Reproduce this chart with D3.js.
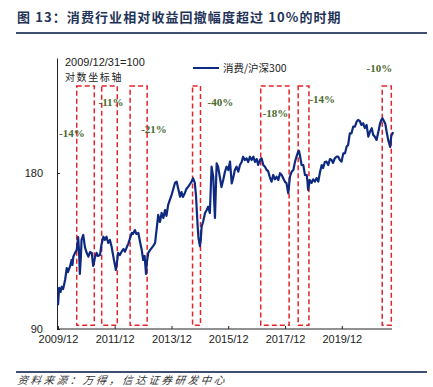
<!DOCTYPE html>
<html>
<head>
<meta charset="utf-8">
<script src="https://cdn.jsdelivr.net/npm/d3@7"></script>
<style>
  html, body { margin: 0; padding: 0; background: #fff; }
  svg { display: block; }
  .tick text { font-family: "Liberation Sans", Arial, sans-serif; font-size: 11px; fill: #222; }
  .axis path, .axis line { stroke: #222; }
</style>
</head>
<body>
<div id="chart"></div>
<script>
// Consumer / CSI300 relative index, 2009/12/31 = 100 (decimal years)
const years = [
  2010.00, 2010.04, 2010.09, 2010.13, 2010.18, 2010.25, 2010.31, 2010.35, 2010.42, 2010.48,
  2010.51, 2010.54, 2010.60, 2010.66, 2010.71, 2010.74, 2010.77, 2010.81, 2010.83, 2010.89,
  2010.95, 2011.00, 2011.07, 2011.13, 2011.19, 2011.24, 2011.30, 2011.36, 2011.41, 2011.48,
  2011.53, 2011.60, 2011.65, 2011.71, 2011.77, 2011.83, 2011.89, 2011.95, 2012.04, 2012.08,
  2012.12, 2012.18, 2012.24, 2012.31, 2012.36, 2012.48, 2012.54, 2012.60, 2012.64, 2012.71,
  2012.76, 2012.83, 2012.89, 2012.95, 2013.00, 2013.05, 2013.10, 2013.13, 2013.18, 2013.24,
  2013.30, 2013.35, 2013.42, 2013.47, 2013.53, 2013.59, 2013.65, 2013.71, 2013.77, 2013.82,
  2013.88, 2013.94, 2014.00, 2014.05, 2014.12, 2014.18, 2014.23, 2014.30, 2014.35, 2014.40,
  2014.47, 2014.52, 2014.59, 2014.65, 2014.70, 2014.76, 2014.82, 2014.86, 2014.92, 2014.95,
  2015.00, 2015.03, 2015.06, 2015.11, 2015.18, 2015.24, 2015.29, 2015.35, 2015.41, 2015.47,
  2015.50, 2015.53, 2015.56, 2015.59, 2015.64, 2015.70, 2015.76, 2015.82, 2015.88, 2015.94,
  2016.00, 2016.06, 2016.12, 2016.17, 2016.23, 2016.29, 2016.35, 2016.41, 2016.47, 2016.52,
  2016.58, 2016.64, 2016.70, 2016.76, 2016.82, 2016.88, 2016.94, 2017.00, 2017.05, 2017.11,
  2017.17, 2017.23, 2017.29, 2017.35, 2017.40, 2017.46, 2017.52, 2017.58, 2017.64, 2017.70,
  2017.76, 2017.82, 2017.88, 2017.93, 2017.99, 2018.05, 2018.11, 2018.17, 2018.23, 2018.29,
  2018.35, 2018.40, 2018.46, 2018.49, 2018.52, 2018.58, 2018.64, 2018.70, 2018.76, 2018.79,
  2018.81, 2018.87, 2018.93, 2018.99, 2019.05, 2019.11, 2019.17, 2019.23, 2019.29, 2019.34,
  2019.40, 2019.46, 2019.52, 2019.58, 2019.64, 2019.69, 2019.75, 2019.81, 2019.87, 2019.93,
  2019.99, 2020.05, 2020.11, 2020.17, 2020.22, 2020.28, 2020.34, 2020.40, 2020.46, 2020.52,
  2020.57, 2020.63, 2020.69, 2020.75, 2020.81, 2020.87, 2020.93, 2020.99, 2021.05, 2021.10,
  2021.16, 2021.22, 2021.28, 2021.34, 2021.39, 2021.43, 2021.48, 2021.53, 2021.58, 2021.63,
  2021.67, 2021.70, 2021.74, 2021.78, 2021.80
];
const values = [
  100.0, 108.0, 106.1, 108.6, 107.5, 111.9, 118.0, 115.9, 118.7, 122.3,
  119.6, 124.1, 126.2, 127.8, 135.4, 127.8, 114.9, 125.0, 133.7, 136.7,
  129.5, 126.7, 124.1, 126.7, 126.2, 119.1, 123.4, 126.2, 124.5, 125.0,
  130.7, 135.6, 133.7, 135.6, 131.9, 133.7, 129.7, 124.1, 117.0, 121.2,
  126.2, 125.0, 126.9, 128.4, 126.9, 131.7, 134.8, 137.9, 137.3, 139.7,
  137.3, 137.9, 132.5, 127.8, 122.3, 124.5, 114.9, 121.2, 126.2, 127.8,
  129.0, 130.1, 131.9, 139.7, 149.4, 144.8, 150.7, 147.4, 152.7, 148.8,
  156.2, 159.7, 163.2, 166.9, 172.2, 173.2, 168.4, 162.0, 165.4, 161.8,
  164.7, 167.6, 169.4, 171.4, 173.0, 175.8, 172.2, 163.2, 141.8, 134.8,
  130.1, 133.7, 141.8, 144.8, 150.7, 152.7, 155.0, 150.7, 185.1, 177.0,
  159.7, 147.4, 166.9, 187.9, 185.1, 177.0, 169.1, 174.5, 180.8, 185.1,
  182.4, 189.3, 171.9, 176.0, 182.4, 185.1, 181.0, 186.5, 189.0, 193.5,
  190.7, 192.1, 189.0, 193.5, 190.7, 193.5, 189.0, 191.5, 186.5, 190.7,
  192.1, 186.5, 185.1, 182.4, 181.6, 176.8, 173.2, 178.4, 175.0, 177.0,
  174.5, 179.8, 178.4, 176.0, 173.2, 171.9, 164.5, 177.0, 181.0, 182.4,
  189.3, 193.5, 197.9, 198.5, 195.0, 186.5, 186.5, 178.4, 178.4, 173.0,
  166.9, 174.5, 172.2, 175.0, 173.2, 176.0, 173.2, 180.8, 186.5, 184.0,
  189.0, 189.3, 186.5, 191.5, 190.7, 188.2, 192.1, 193.5, 193.5, 190.7,
  189.3, 196.4, 196.4, 202.4, 203.8, 214.7, 214.7, 221.2, 221.2, 226.1,
  227.8, 226.8, 222.8, 224.5, 219.8, 222.8, 211.5, 216.3, 219.6, 213.4,
  211.5, 208.5, 215.6, 223.8, 227.8, 229.5, 226.8, 223.8, 215.6, 208.5,
  204.7, 202.0, 212.6, 214.1, 216.0
];

// Drawdown periods (> 10%) marked with dashed boxes
const periodStart = [2010.66, 2011.54, 2012.54, 2014.74, 2017.14, 2018.46, 2021.42];
const periodEnd   = [2011.28, 2012.09, 2013.14, 2015.02, 2018.14, 2018.84, 2021.74];
const drawdowns   = ["-14%", "-11%", "-21%", "-40%", "-18%", "-14%", "-10%"];
const labelYear   = [2010.49, 2011.87, 2013.38, 2015.72, 2017.66, 2019.31, 2021.32];
const labelValue  = [215, 247, 219, 247, 235, 250, 287];

const tickYears = [2009, 2011, 2013, 2015, 2017, 2019];
const yTicks = [90, 180];

function toDate(t) {
  const y = Math.floor(t);
  const a = new Date(y, 0, 1), b = new Date(y + 1, 0, 1);
  return new Date(+a + (t - y) * (b - a));
}

const W = 433, H = 387;
const svg = d3.select('#chart').append('svg').attr('width', W).attr('height', H);

// Title + rules
svg.append('text')
  .attr('x', 17).attr('y', 22)
  .attr('font-family', '"Noto Sans CJK SC", sans-serif')
  .attr('font-weight', 'bold').attr('font-size', 13)
  .attr('letter-spacing', 1.1)
  .attr('fill', '#1f3458')
  .text('图 13：消费行业相对收益回撤幅度超过 10%的时期');
svg.append('line').attr('x1', 16).attr('x2', 427).attr('y1', 33).attr('y2', 33)
  .attr('stroke', '#3e4f72').attr('stroke-width', 2);
svg.append('line').attr('x1', 16).attr('x2', 427).attr('y1', 372).attr('y2', 372)
  .attr('stroke', '#3e4f72').attr('stroke-width', 2);
svg.append('text')
  .attr('x', 17).attr('y', 384)
  .attr('font-family', '"Noto Sans CJK SC", sans-serif')
  .attr('font-style', 'italic').attr('font-size', 10.5)
  .attr('letter-spacing', 2.6)
  .attr('fill', '#333')
  .attr('transform', 'skewX(-8)').attr('dx', 54)
  .text('资料来源：万得，信达证券研发中心');

const x = d3.scaleTime()
  .domain([toDate(2010.0), toDate(2021.8)])
  .range([58, 393]);
const y = d3.scaleLog().domain([90, 300]).range([329, 58]);

// Axes
const xAxis = d3.axisBottom(x)
  .tickValues(tickYears.map(yr => new Date(yr, 11, 31)))
  .tickFormat(d3.timeFormat('%Y/%m'))
  .tickSizeInner(-3).tickSizeOuter(0).tickPadding(6);
svg.append('g').attr('class', 'axis')
  .attr('transform', 'translate(0,329)')
  .call(xAxis)
  .call(g => g.select('.domain').attr('d', 'M57,0H392'));

const yAxis = d3.axisLeft(y)
  .tickValues(yTicks).tickFormat(d3.format('d'))
  .tickSizeInner(-3).tickSizeOuter(0).tickPadding(14);
svg.append('g').attr('class', 'axis')
  .attr('transform', 'translate(57,0)')
  .call(yAxis);

// Annotations
const note = svg.append('g')
  .attr('font-family', '"Liberation Sans", "Noto Sans CJK SC", sans-serif')
  .attr('font-size', 11).attr('fill', '#222');
note.append('text').attr('x', 65).attr('y', 66).text('2009/12/31=100');
note.append('text').attr('x', 65).attr('y', 81)
  .attr('font-family', '"Noto Sans CJK SC", sans-serif').attr('font-size', 10)
  .attr('letter-spacing', 1.6)
  .text('对数坐标轴');

// Drawdown boxes
const boxTop = y(265), boxBottom = y(91.5);
const boxes = svg.append('g').attr('class', 'boxes');
periodStart.forEach((s, i) => {
  const x0 = x(toDate(s)), x1 = x(toDate(periodEnd[i]));
  boxes.append('rect')
    .attr('x', x0).attr('y', boxTop)
    .attr('width', x1 - x0).attr('height', boxBottom - boxTop)
    .attr('fill', 'none')
    .attr('stroke', '#e3242b').attr('stroke-width', 1.5)
    .attr('stroke-dasharray', '5,3');
});

// Line
const series = years.map((t, i) => ({ date: toDate(t), value: values[i] }));
svg.append('path')
  .datum(series)
  .attr('fill', 'none')
  .attr('stroke', '#0d2a80')
  .attr('stroke-width', 2.2)
  .attr('stroke-linejoin', 'round')
  .attr('d', d3.line().x(d => x(d.date)).y(d => y(d.value)));

// Drawdown labels
svg.append('g')
  .selectAll('text')
  .data(drawdowns)
  .enter().append('text')
    .attr('x', (d, i) => x(toDate(labelYear[i])))
    .attr('y', (d, i) => y(labelValue[i]))
    .attr('dy', '0.35em')
    .attr('text-anchor', 'middle')
    .attr('font-family', '"Liberation Serif", "Times New Roman", serif')
    .attr('font-weight', 'bold').attr('font-size', 11)
    .attr('fill', '#4a6a2c')
    .text(d => d);

// Legend
svg.append('line').attr('x1', 193).attr('x2', 219).attr('y1', 68).attr('y2', 68)
  .attr('stroke', '#0d2a80').attr('stroke-width', 2);
svg.append('text').attr('x', 223).attr('y', 72)
  .attr('font-family', '"Noto Sans CJK SC", sans-serif').attr('font-size', 10.5)
  .attr('fill', '#222')
  .text('消费/沪深300');
</script>
</body>
</html>
